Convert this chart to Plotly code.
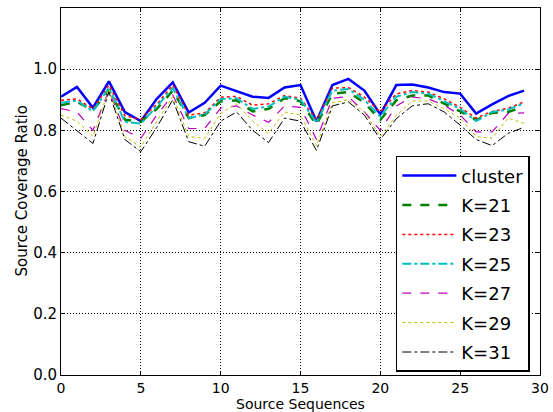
import plotly.graph_objects as go

x_vals = list(range(30))
cluster = [0.910,0.942,0.874,0.960,0.860,0.830,0.903,0.957,0.858,0.890,0.946,0.928,0.910,0.906,0.940,0.948,0.830,0.948,0.968,0.930,0.852,0.948,0.950,0.940,0.925,0.920,0.855,0.885,0.912,0.930]
k21 = [0.882,0.893,0.866,0.930,0.835,0.828,0.870,0.930,0.840,0.850,0.895,0.898,0.862,0.870,0.905,0.895,0.818,0.920,0.925,0.890,0.834,0.898,0.914,0.914,0.887,0.862,0.834,0.857,0.860,0.877]
k23 = [0.898,0.903,0.870,0.948,0.848,0.836,0.885,0.948,0.850,0.857,0.908,0.911,0.882,0.887,0.914,0.905,0.835,0.938,0.940,0.909,0.860,0.919,0.930,0.925,0.903,0.875,0.840,0.862,0.872,0.893]
k25 = [0.890,0.897,0.862,0.940,0.828,0.822,0.878,0.938,0.840,0.852,0.902,0.905,0.870,0.878,0.910,0.900,0.825,0.930,0.935,0.900,0.845,0.910,0.925,0.920,0.895,0.870,0.830,0.860,0.868,0.888]
k27 = [0.871,0.860,0.800,0.930,0.800,0.774,0.850,0.916,0.806,0.806,0.873,0.880,0.850,0.826,0.880,0.875,0.770,0.905,0.910,0.860,0.800,0.880,0.909,0.903,0.882,0.850,0.795,0.795,0.855,0.857]
k29 = [0.850,0.830,0.780,0.935,0.780,0.745,0.830,0.910,0.780,0.774,0.855,0.887,0.830,0.790,0.860,0.850,0.750,0.890,0.900,0.860,0.780,0.849,0.896,0.896,0.871,0.840,0.780,0.774,0.840,0.823]
k31 = [0.840,0.800,0.757,0.925,0.770,0.730,0.810,0.900,0.763,0.748,0.830,0.860,0.800,0.760,0.840,0.830,0.734,0.880,0.893,0.850,0.770,0.838,0.880,0.887,0.860,0.817,0.770,0.750,0.790,0.810]

series_names = ["cluster", "K=21", "K=23", "K=25", "K=27", "K=29", "K=31"]
series_data = [cluster, k21, k23, k25, k27, k29, k31]
colors = ["#0000ff", "#008000", "#ff0000", "#00bfbf", "#bf00bf", "#bfbf00", "#000000"]
dashes = ["solid", "dash", "dot", "dashdot", "dash", "dot", "dashdot"]
widths = [2.5, 2.5, 1.5, 2.0, 1.2, 1.0, 1.0]

fig = go.Figure()
for name, ys, c, d, w in zip(series_names, series_data, colors, dashes, widths):
    fig.add_trace(go.Scatter(x=x_vals, y=ys, mode="lines", name=name,
                             legendgroup=name,
                             line=dict(color=c, dash=d, width=w)))

axis_common = dict(showline=True, linecolor="black", linewidth=1, mirror="ticks",
                   ticks="inside", ticklen=4, tickcolor="black", automargin=False,
                   showgrid=True, gridcolor="black", griddash="1px,2px", gridwidth=1,
                   zeroline=False)

fig.update_xaxes(range=[0, 30], tickvals=[0, 5, 10, 15, 20, 25, 30],
                 tickfont=dict(family="DejaVu Sans", size=14, color="black"), **axis_common)
fig.update_yaxes(range=[0, 1.2], tickvals=[0, 0.2, 0.4, 0.6, 0.8, 1.0], tickformat=".1f",
                 tickfont=dict(family="DejaVu Sans", size=15, color="black"), **axis_common)

# axis titles as annotations for precise placement
fig.add_annotation(text="Source Sequences", xref="paper", yref="paper",
                   x=0.5, y=0, yshift=-29, xanchor="center", yanchor="middle",
                   showarrow=False, font=dict(family="DejaVu Sans", size=14, color="black"))
fig.add_annotation(text="Source Coverage Ratio", xref="paper", yref="paper",
                   x=0, y=0.5, xshift=-40, xanchor="center", yanchor="middle", textangle=-90,
                   showarrow=False, font=dict(family="DejaVu Sans", size=15, color="black"))

fig.update_layout(
    width=553, height=412,
    margin=dict(l=61, r=13, t=8, b=37),
    paper_bgcolor="white", plot_bgcolor="white",
    font=dict(family="DejaVu Sans", color="black"),
    legend=dict(x=0.699, y=0.597, xanchor="left", yanchor="top",
                bgcolor="white", bordercolor="black", borderwidth=1.5,
                font=dict(family="DejaVu Sans", size=18, color="black"),
                tracegroupgap=3, itemwidth=54),
    showlegend=True,
)

fig.write_html("out.html")
